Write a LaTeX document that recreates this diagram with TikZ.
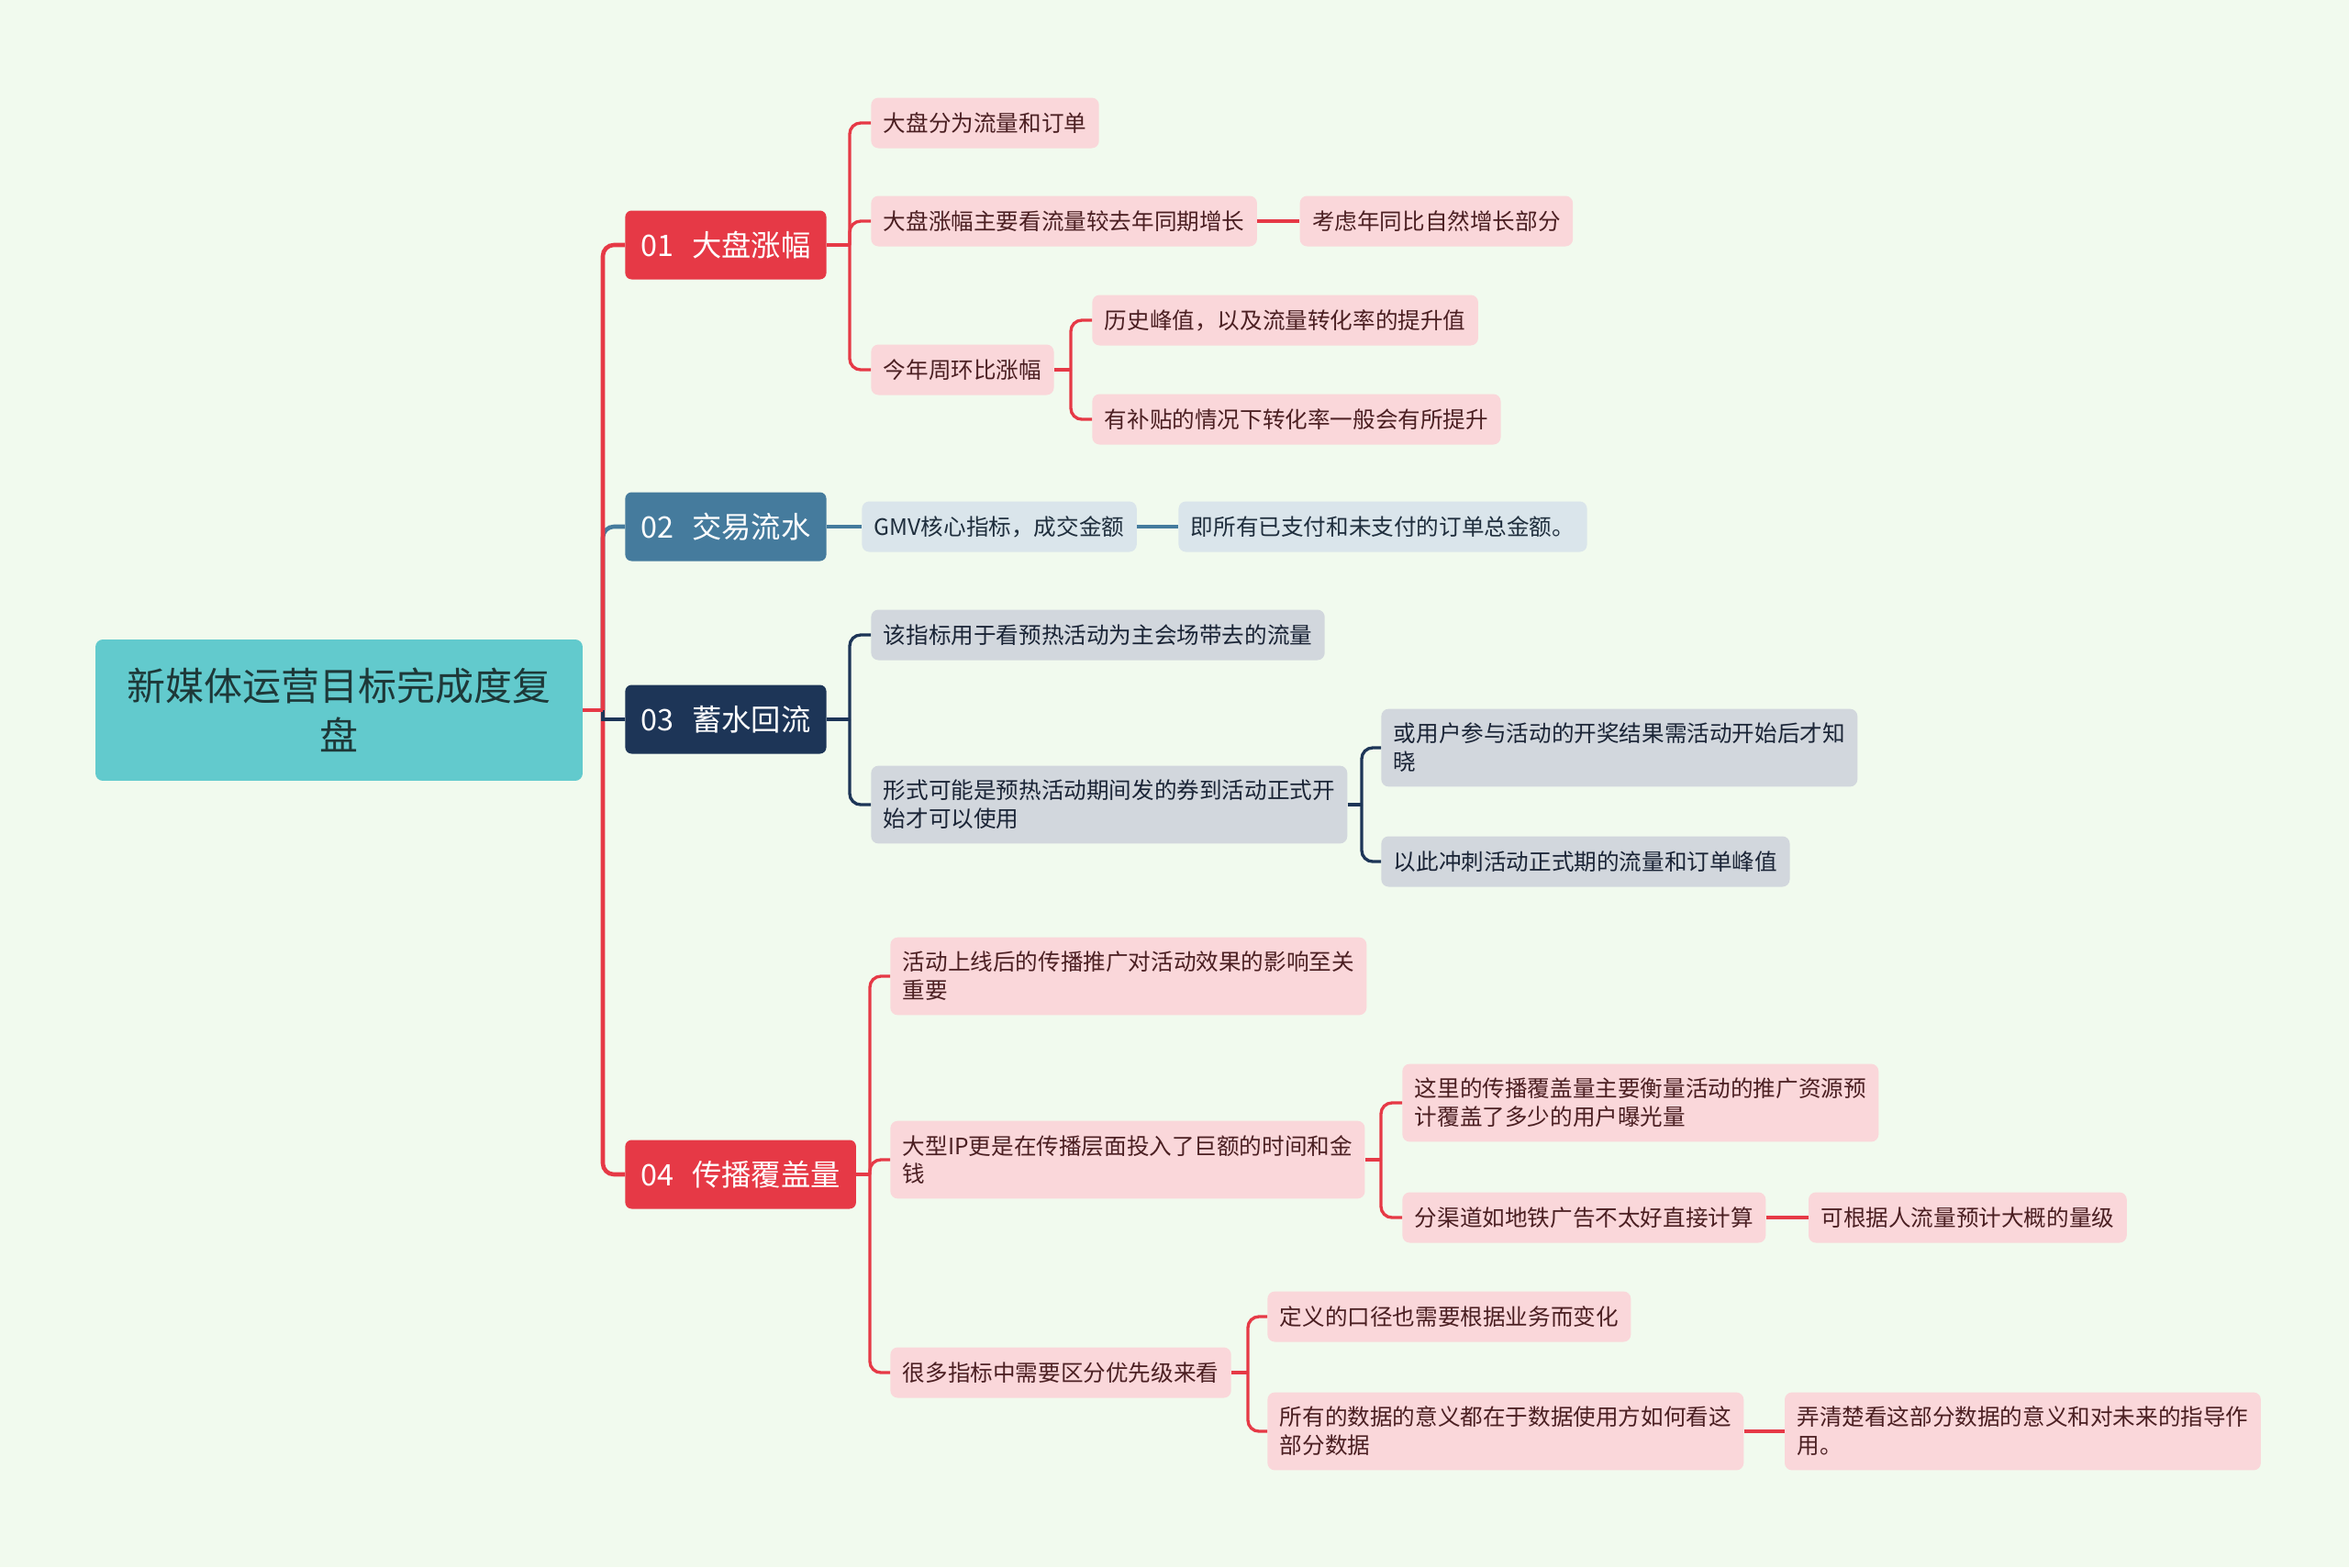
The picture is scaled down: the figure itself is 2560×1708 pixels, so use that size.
\documentclass[tikz,border=0pt]{standalone}
\usepackage{fontspec}
\usepackage{xcolor}
\newfontfamily\cjk{Noto Sans CJK SC}
\usetikzlibrary{positioning, calc}

\definecolor{bgc}{HTML}{F1FAEE}
\definecolor{rootc}{HTML}{62CACD}
\definecolor{roottext}{HTML}{1E3838}
\definecolor{redc}{HTML}{E63946}
\definecolor{bluec}{HTML}{457B9D}
\definecolor{navyc}{HTML}{1D3557}
\definecolor{pinkc}{HTML}{FAD7DA}
\definecolor{paleblue}{HTML}{DAE5EB}
\definecolor{palenavy}{HTML}{D2D7DD}
\definecolor{pinktext}{HTML}{4B1F22}
\definecolor{bluetext}{HTML}{1F2E3D}
\definecolor{navytext}{HTML}{1A2436}

\begin{document}
\begin{tikzpicture}[
    x=0.02cm, y=-0.02cm,
    root/.style={
        rectangle,
        fill=rootc,
        text=roottext,
        rounded corners=0.16cm,
        minimum width=10.62cm,
        minimum height=3.08cm,
        align=center,
        font=\cjk\fontsize{23.9pt}{30.7pt}\selectfont
    },
    topic/.style={
        rectangle,
        text=white,
        rounded corners=0.14cm,
        minimum height=1.5cm,
        inner xsep=0.34cm,
        anchor=west,
        font=\cjk\fontsize{18.4pt}{22pt}\selectfont
    },
    leaf/.style={
        rectangle,
        rounded corners=0.16cm,
        minimum height=1.1cm,
        inner xsep=0.27cm,
        inner ysep=0.31cm,
        align=left,
        anchor=west,
        font=\cjk\fontsize{14pt}{17.6pt}\selectfont
    },
    redleaf/.style={leaf, fill=pinkc, text=pinktext},
    blueleaf/.style={leaf, fill=paleblue, text=bluetext},
    navyleaf/.style={leaf, fill=palenavy, text=navytext},
    trunk/.style={line width=2.6pt, rounded corners=0.24cm},
    branch/.style={line width=1.9pt, rounded corners=0.24cm}
]

\fill[bgc] (0,0) rectangle (2560,1708);
\useasboundingbox (0,0) rectangle (2560,1708);

% centre and main topics
\node[root] (root) at (369.5,774) {新媒体运营目标完成度复\\盘};
\node[topic, fill=redc] (dapan) at (681,267) {01\hspace{0.62em}大盘涨幅};
\node[topic, fill=bluec] (jiaoyi) at (681,574) {02\hspace{0.62em}交易流水};
\node[topic, fill=navyc] (xushui) at (681,784) {03\hspace{0.62em}蓄水回流};
\node[topic, fill=redc] (chuanbo) at (681,1280) {04\hspace{0.62em}传播覆盖量};

% 01
\node[redleaf] (dapan1) at (949,134) {大盘分为流量和订单};
\node[redleaf] (dapan2) at (949,241) {大盘涨幅主要看流量较去年同期增长};
\node[redleaf, right=0.92cm of dapan2] (dapan21) {考虑年同比自然增长部分};
\node[redleaf] (dapan3) at (949,403) {今年周环比涨幅};
\node[redleaf] (dapan31) at (1190,349) {历史峰值，以及流量转化率的提升值};
\node[redleaf] (dapan32) at (1190,457) {有补贴的情况下转化率一般会有所提升};

% 02
\node[blueleaf] (jiaoyi1) at (939,574) {GMV核心指标，成交金额};
\node[blueleaf, right=0.9cm of jiaoyi1] (jiaoyi11) {即所有已支付和未支付的订单总金额。};

% 03
\node[navyleaf] (xushui1) at (949,692) {该指标用于看预热活动为主会场带去的流量};
\node[navyleaf] (xushui2) at (949,877) {形式可能是预热活动期间发的券到活动正式开\\始才可以使用};
\node[navyleaf] (xushui21) at (1505,815) {或用户参与活动的开奖结果需活动开始后才知\\晓};
\node[navyleaf] (xushui22) at (1505,939) {以此冲刺活动正式期的流量和订单峰值};

% 04
\node[redleaf] (chuanbo1) at (970,1064) {活动上线后的传播推广对活动效果的影响至关\\重要};
\node[redleaf] (chuanbo2) at (970,1264) {大型IP更是在传播层面投入了巨额的时间和金\\钱};
\node[redleaf] (chuanbo21) at (1528,1202) {这里的传播覆盖量主要衡量活动的推广资源预\\计覆盖了多少的用户曝光量};
\node[redleaf] (chuanbo22) at (1528,1327) {分渠道如地铁广告不太好直接计算};
\node[redleaf, right=0.92cm of chuanbo22] (chuanbo221) {可根据人流量预计大概的量级};
\node[redleaf] (chuanbo3) at (970,1496) {很多指标中需要区分优先级来看};
\node[redleaf] (chuanbo31) at (1381,1435) {定义的口径也需要根据业务而变化};
\node[redleaf] (chuanbo32) at (1381,1560) {所有的数据的意义都在于数据使用方如何看这\\部分数据};
\node[redleaf, right=0.88cm of chuanbo32] (chuanbo321) {弄清楚看这部分数据的意义和对未来的指导作\\用。};

% forks
\coordinate (rootfork) at (657,774);
\coordinate (dapanfork) at (926,267);
\coordinate (dapan3fork) at (1167,403);
\coordinate (xushuifork) at (926,784);
\coordinate (xushui2fork) at (1484,877);
\coordinate (chuanbofork) at (948,1280);
\coordinate (chuanbo2fork) at (1505,1264);
\coordinate (chuanbo3fork) at (1360,1496);

% connectors
\draw[trunk, bluec] (rootfork) |- (jiaoyi.west);
\draw[trunk, redc] (rootfork) |- (dapan.west);
\draw[trunk, redc] (rootfork) |- (chuanbo.west);
\draw[trunk, navyc, sharp corners] (rootfork) |- (xushui.west);
\draw[trunk, redc] (root.east) -- (rootfork);

\draw[branch, redc] (dapan.east) -- (dapanfork);
\draw[branch, redc] (dapanfork) |- (dapan1.west);
\draw[branch, redc] (dapanfork) |- (dapan2.west);
\draw[branch, redc] (dapanfork) |- (dapan3.west);
\draw[branch, redc] (dapan2) -- (dapan21);
\draw[branch, redc] (dapan3.east) -- (dapan3fork);
\draw[branch, redc] (dapan3fork) |- (dapan31.west);
\draw[branch, redc] (dapan3fork) |- (dapan32.west);

\draw[branch, bluec] (jiaoyi) -- (jiaoyi1);
\draw[branch, bluec] (jiaoyi1) -- (jiaoyi11);

\draw[branch, navyc] (xushui.east) -- (xushuifork);
\draw[branch, navyc] (xushuifork) |- (xushui1.west);
\draw[branch, navyc] (xushuifork) |- (xushui2.west);
\draw[branch, navyc] (xushui2.east) -- (xushui2fork);
\draw[branch, navyc] (xushui2fork) |- (xushui21.west);
\draw[branch, navyc] (xushui2fork) |- (xushui22.west);

\draw[branch, redc] (chuanbo.east) -- (chuanbofork);
\draw[branch, redc] (chuanbofork) |- (chuanbo1.west);
\draw[branch, redc] (chuanbofork) |- (chuanbo2.west);
\draw[branch, redc] (chuanbofork) |- (chuanbo3.west);
\draw[branch, redc] (chuanbo2.east) -- (chuanbo2fork);
\draw[branch, redc] (chuanbo2fork) |- (chuanbo21.west);
\draw[branch, redc] (chuanbo2fork) |- (chuanbo22.west);
\draw[branch, redc] (chuanbo22) -- (chuanbo221);
\draw[branch, redc] (chuanbo3.east) -- (chuanbo3fork);
\draw[branch, redc] (chuanbo3fork) |- (chuanbo31.west);
\draw[branch, redc] (chuanbo3fork) |- (chuanbo32.west);
\draw[branch, redc] (chuanbo32) -- (chuanbo321);

\end{tikzpicture}
\end{document}
